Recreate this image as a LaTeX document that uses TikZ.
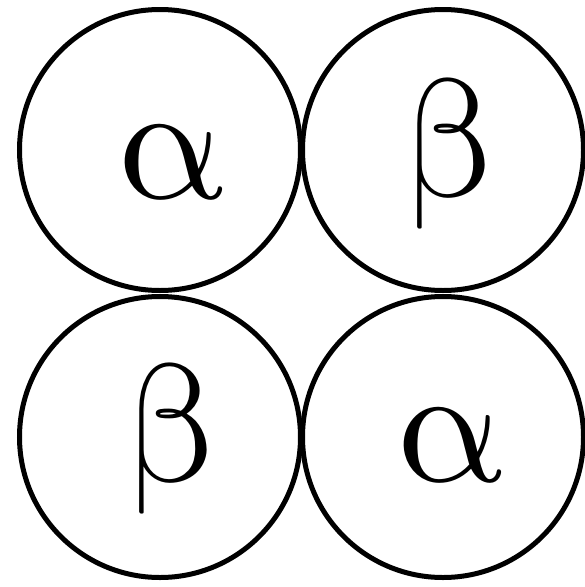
\documentclass[tikz,border=0pt]{standalone}
\usepackage{unicode-math}
\setmathfont{Latin Modern Math}
\begin{document}
\begin{tikzpicture}[x=1pt,y=-1pt,
  ball/.style={circle,draw=black,line width=5pt,minimum size=281pt,inner sep=0pt},
  lbl/.style={anchor=base,inner sep=0pt,font=\fontsize{168}{168}\selectfont}]
\useasboundingbox (0,0) rectangle (585,587);
\node[ball] (tl) at (160,150) {};
\node[ball] (tr) at (443,150) {};
\node[ball] (bl) at (160,437) {};
\node[ball] (br) at (443,437) {};
\node[lbl] (a1) at (171,198) {$\symup{\alpha}$};
\node[lbl] (b1) at (450,196) {$\symup{\beta}$};
\node[lbl] (b2) at (172,481) {$\symup{\beta}$};
\node[lbl] (a2) at (450,481) {$\symup{\alpha}$};
\end{tikzpicture}
\end{document}
